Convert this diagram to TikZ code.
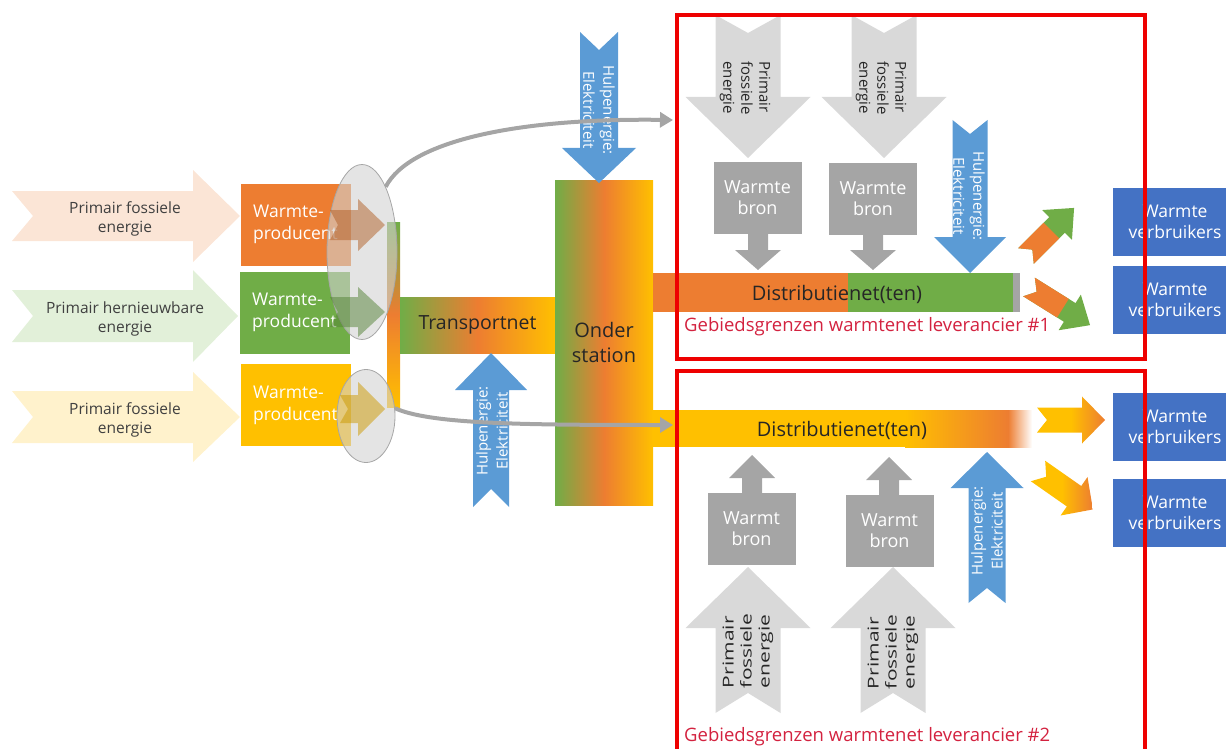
\documentclass[tikz,border=0pt]{standalone}
\usepackage{fontspec}
\setmainfont{Open Sans}
\usetikzlibrary{shapes.geometric,arrows.meta,positioning}

\definecolor{oranje}{HTML}{ED7D31}
\definecolor{groen}{HTML}{70AD47}
\definecolor{geel}{HTML}{FFC000}
\definecolor{lichtblauw}{HTML}{5B9BD5}
\definecolor{donkerblauw}{HTML}{4472C4}
\definecolor{grijs}{HTML}{A5A5A5}
\definecolor{lichtgrijs}{HTML}{D9D9D9}
\definecolor{perzik}{HTML}{FBE5D6}
\definecolor{lichtgroen}{HTML}{E2F0D9}
\definecolor{lichtgeel}{HTML}{FFF2CC}
\definecolor{rood}{HTML}{EE0000}
\definecolor{labelrood}{HTML}{D3223F}

\tikzset{
  pics/pijl/.style args={#1/#2/#3/#4/#5/#6}{code={
    \path[#6] (0,-#2) -- (#1-#4,-#2) -- (#1-#4,-#3) -- (#1,0)
      -- (#1-#4,#3) -- (#1-#4,#2) -- (0,#2) -- (#5,0) -- cycle;
  }},
  pics/staart/.style args={#1/#2/#3/#4}{code={
    \path[#4] (0,-#2) -- (#1,-#2) -- (#1,#2) -- (0,#2) -- (#3,0) -- cycle;
  }},
}

\begin{document}
\begin{tikzpicture}[x=1pt, y=-1pt,
    invoer/.style={align=center, text=black!75, font=\fontsize{15.5}{19}\selectfont},
    producent/.style={minimum width=110, minimum height=82, inner sep=0, align=left, text=white, font=\fontsize{17.5}{22}\selectfont},
    verloop/.style={left color=groen, right color=geel, middle color=oranje},
    groottekst/.style={font=\fontsize{20}{25}\selectfont, text=black!85},
    ovaal/.style={ellipse, draw=gray!70, line width=0.8, fill=gray!35, fill opacity=0.6, inner sep=0},
    verbinding/.style={draw=grijs, line width=4, -{Triangle[length=13pt, width=15pt]}},
    hulptekst/.style={align=center, text=white, font=\fontsize{15}{20}\selectfont},
    primtekst/.style={align=left, text=black!85, font=\fontsize{15}{18}\selectfont},
    bronbox/.style={fill=grijs, minimum width=88, minimum height=72, inner sep=0, align=center, text=white, font=\fontsize{18}{21}\selectfont},
    verbruiker/.style={fill=donkerblauw, minimum width=124, minimum height=68, inner sep=0, align=center, text=white, font=\fontsize{17.5}{21}\selectfont},
    gebied/.style={draw=rood, line width=4},
    gebiedtekst/.style={text=labelrood, font=\fontsize{18.5}{22}\selectfont, inner sep=0},
  ]
  \useasboundingbox (0,0) rectangle (1226,749);

  % primaire energie links
  \pic at (12,216) {pijl=228/25/46/47/21/{fill=perzik}};
  \pic at (12,316) {pijl=226/26/46/45/21/{fill=lichtgroen}};
  \pic at (12,417) {pijl=228/26/45/47/21/{fill=lichtgeel}};
  \node[invoer] (in1) at (125,219) {Primair fossiele\\energie};
  \node[invoer] (in2) at (125,319) {Primair hernieuwbare\\energie};
  \node[invoer] (in3) at (125,420) {Primair fossiele\\energie};

  % warmteproducenten
  \node[producent, fill=oranje] (prod1) at (295.5,224.5) {Warmte-\\producent};
  \node[producent, fill=groen] (prod2) at (294.5,312.5) {Warmte-\\producent};
  \node[producent, fill=geel] (prod3) at (295.5,405) {Warmte-\\producent};

  % transport en onderstation
  \shade[top color=groen, bottom color=geel, middle color=oranje] (387,222) rectangle (400,407);
  \node[verloop, minimum width=155, minimum height=56, inner sep=0, groottekst, font=\fontsize{19.5}{24}\selectfont] (trans) at (477.5,325) {Transportnet};
  \node[verloop, minimum width=98, minimum height=325, inner sep=0, align=center, groottekst] (onder) at (604,342.5) {Onder\\station};

  % distributienetten
  \fill[oranje] (653,273) rectangle (848,312);
  \fill[groen] (848,273) rectangle (1013,312);
  \fill[grijs] (1013,273) rectangle (1020,312);
  \node[groottekst] (dist1) at (837,294) {Distributienet(ten)};
  \fill[geel] (653,410) rectangle (905,447);
  \shade[left color=geel, right color=oranje] (905,410) rectangle (1008,447);
  \shade[left color=oranje, right color=white] (1008,410) rectangle (1032,447);
  \node[groottekst] (dist2) at (842,430) {Distributienet(ten)};

  % ovalen met pijlen
  \node[ovaal, minimum width=70, minimum height=175] (ell1) at (362,252) {};
  \node[ovaal, minimum width=58, minimum height=93] (ell2) at (366,416) {};
  \pic at (330,225) {pijl=55/15/26/27/8/{fill=oranje!75!black, fill opacity=0.5}};
  \pic at (330,312) {pijl=55/15/25/27/8/{fill=groen!75!black, fill opacity=0.5}};
  \pic at (340,409) {pijl=45/14/27/27/8/{fill=geel!80!black, fill opacity=0.5}};

  % hulpenergie
  \pic[rotate=-90] at (599,32) {pijl=151/19/37/35/18/{fill=lichtblauw}};
  \node[hulptekst, rotate=-90] (hulp1) at (599,110) {Hulpenergie:\\Elektriciteit};
  \pic[rotate=90] at (491,507) {pijl=154/18/36/37/18/{fill=lichtblauw}};
  \node[hulptekst, rotate=90] (hulp2) at (492,431) {Hulpenergie:\\Elektriciteit};
  \pic[rotate=-90] at (970,120) {pijl=153/17.5/36/36/14/{fill=lichtblauw}};
  \node[hulptekst, rotate=-90] (hulp3) at (969,196) {Hulpenergie:\\Elektriciteit};
  \pic[rotate=90] at (987,603) {pijl=151/18.5/36.5/36/15/{fill=lichtblauw}};
  \node[hulptekst, rotate=90] (hulp4) at (987,531) {Hulpenergie:\\Elektriciteit};

  % grijze verbindingen
  \coordinate (eind1) at (673,120);
  \coordinate (eind2) at (673,425);
  \draw[verbinding] (ell1.70) .. controls (410,140) and (520,118) .. (eind1);
  \draw[verbinding] (ell2.15) .. controls (430,424) and (520,425) .. (eind2);

  % leverancier 1
  \pic[rotate=-90] at (748,15) {pijl=143/32.5/62.5/61/18/{fill=lichtgrijs}};
  \pic[rotate=-90] at (884,15) {pijl=143/32.5/62.5/61/18/{fill=lichtgrijs}};
  \node[primtekst, rotate=-90] (prim1) at (745,88) {Primair\\fossiele\\energie};
  \node[primtekst, rotate=-90] (prim2) at (881,88) {Primair\\fossiele\\energie};
  \node[bronbox] (bron1) at (757.5,197.5) {Warmte\\bron};
  \node[bronbox] (bron2) at (873,198.5) {Warmte\\bron};
  \pic[rotate=-90] at (758,233) {pijl=37/10/23/20/0/{fill=grijs}};
  \pic[rotate=-90] at (873,235) {pijl=35/10/23/20/0/{fill=grijs}};
  \pic[rotate=45] at (1026,256) {pijl=68/11/21/24/9/{fill=groen}};
  \pic[rotate=45] at (1026,256) {staart=36/11/9/{fill=oranje}};
  \pic[rotate=-32] at (1029,287) {pijl=72/11/21/24/9/{fill=groen}};
  \pic[rotate=-32] at (1029,287) {staart=40/11/9/{fill=oranje}};
  \node[gebiedtekst, anchor=west] (grens1) at (684,327) {Gebiedsgrenzen warmtenet leverancier \#1};

  % leverancier 2
  \pic at (1037,420) {pijl=68/12.5/23.5/23/10/{left color=geel, right color=oranje, middle color=geel}};
  \pic[rotate=-35] at (1038,471) {pijl=67/12.5/23.5/23/10/{left color=geel, right color=oranje, middle color=geel}};
  \pic[rotate=90] at (752,493) {pijl=38/10/23/23/0/{fill=grijs}};
  \pic[rotate=90] at (889,495) {pijl=38/10/23/23/0/{fill=grijs}};
  \node[bronbox] (bron3) at (751.5,529) {Warmt\\bron};
  \node[bronbox] (bron4) at (889.5,531) {Warmt\\bron};
  \pic[rotate=90] at (748,713) {pijl=146/32.5/62.5/61/20/{fill=lichtgrijs}};
  \pic[rotate=90] at (893,713) {pijl=146/32.5/62.5/61/20/{fill=lichtgrijs}};
  \node[primtekst, rotate=90, xscale=1.4] (prim3) at (748,651) {Primair\\fossiele\\energie};
  \node[primtekst, rotate=90, xscale=1.4] (prim4) at (893,652) {Primair\\fossiele\\energie};
  \node[gebiedtekst, anchor=west] (grens2) at (684,737) {Gebiedsgrenzen warmtenet leverancier \#2};

  % warmteverbruikers
  \node[verbruiker] (verbr1) at (1175,221.5) {Warmte\\verbruikers};
  \node[verbruiker] (verbr2) at (1175,299.5) {Warmte\\verbruikers};
  \node[verbruiker] (verbr3) at (1175,426.5) {Warmte\\verbruikers};
  \node[verbruiker] (verbr4) at (1175,512.5) {Warmte\\verbruikers};

  % gebiedsgrenzen
  \draw[gebied] (677,15) rectangle (1145,359);
  \draw[gebied] (677,371) rectangle (1145,760);
\end{tikzpicture}
\end{document}
